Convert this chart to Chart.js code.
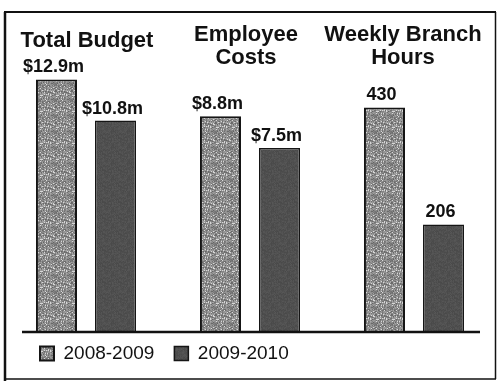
<!DOCTYPE html>
<html>
<head>
<meta charset="utf-8">
<script src="https://cdn.jsdelivr.net/npm/chart.js@4.4.0/dist/chart.umd.min.js"></script>
<style>
  html, body { margin: 0; padding: 0; background: #fff; }
  #wrap { width: 498px; height: 381px; position: relative; }
</style>
</head>
<body>
<div id="wrap"><canvas id="c" width="498" height="381"></canvas></div>
<script>
// ---- data ----
const categories = ['Total Budget', 'Employee Costs', 'Weekly Branch Hours'];
const titleLines = [['Total Budget'], ['Employee', 'Costs'], ['Weekly Branch', 'Hours']];
const seriesNames = ['2008-2009', '2009-2010'];
const values2008 = [12.9, 8.8, 430];
const values2009 = [10.8, 7.5, 206];
const valuePrefix = ['$', '$', ''];
const valueSuffix = ['m', 'm', ''];
const axisMax = [14.4, 11.5, 540];

// ---- textures (deterministic) ----
function makePattern(base, spread, lightChance, seed) {
  const c = document.createElement('canvas');
  c.width = 16; c.height = 16;
  const g = c.getContext('2d');
  let s = seed;
  function rnd() { s = (s * 1103515245 + 12345) & 0x7fffffff; return s / 0x7fffffff; }
  for (let y = 0; y < 16; y++) {
    for (let x = 0; x < 16; x++) {
      let v = base + (rnd() - 0.5) * spread;
      if (rnd() < lightChance) v = 215;
      v = Math.max(0, Math.min(255, Math.round(v)));
      g.fillStyle = `rgb(${v},${v},${v})`;
      g.fillRect(x, y, 1, 1);
    }
  }
  return c;
}
const ctx = document.getElementById('c').getContext('2d');
const pat2008 = ctx.createPattern(makePattern(135, 70, 0.10, 12345), 'repeat');
const pat2009 = ctx.createPattern(makePattern(80, 14, 0.0, 777), 'repeat');
const fills = [pat2008, pat2009];
const seriesValues = [values2008, values2009];

// one pair of datasets per group, each group on its own hidden value axis
const datasets = [];
categories.forEach((cat, gi) => {
  seriesNames.forEach((name, si) => {
    datasets.push({
      label: name,
      data: categories.map((_, j) => j === gi ? seriesValues[si][j] : null),
      yAxisID: 'y' + gi,
      backgroundColor: fills[si],
      borderColor: '#151515',
      borderWidth: si === 0 ? 2 : 1.5,
      borderSkipped: 'bottom',
      skipNull: true,
      categoryPercentage: 0.72,
      barPercentage: 0.695
    });
  });
});

const scales = {
  x: { display: false, grid: { display: false } }
};
categories.forEach((_, gi) => {
  scales['y' + gi] = { display: false, min: 0, max: axisMax[gi], grid: { display: false } };
});

const framePlugin = {
  id: 'frame',
  beforeDraw(chart) {
    const c = chart.ctx;
    c.save();
    c.fillStyle = '#fff';
    c.fillRect(0, 0, chart.width, chart.height);
    c.strokeStyle = '#111';
    c.lineWidth = 2.5; c.beginPath(); c.moveTo(5, 12); c.lineTo(5, 381); c.stroke();
    c.lineWidth = 2; c.beginPath(); c.moveTo(4, 12); c.lineTo(496, 12); c.stroke();
    c.lineWidth = 1.5; c.beginPath(); c.moveTo(495.5, 12); c.lineTo(495.5, 379); c.stroke();
    c.lineWidth = 1.5; c.beginPath(); c.moveTo(5, 379); c.lineTo(496, 379); c.stroke();
    c.restore();
  },
  afterLayout(chart) {
    chart.legend.left += 16;
    chart.legend.top = chart.chartArea.bottom - 8;
  },
  afterDatasetsDraw(chart) {
    const c = chart.ctx;
    const xs = chart.scales.x;
    const area = chart.chartArea;
    c.save();
    // baseline
    c.strokeStyle = '#111';
    c.lineWidth = 2.5;
    c.beginPath(); c.moveTo(22, area.bottom); c.lineTo(480, area.bottom); c.stroke();
    // group titles
    c.fillStyle = '#111';
    c.textAlign = 'center';
    c.textBaseline = 'alphabetic';
    c.font = 'bold 22px "Liberation Sans", Arial, sans-serif';
    const titleDx = [1, -4, -11];
    titleLines.forEach((lines, gi) => {
      const x = xs.getPixelForValue(gi) + titleDx[gi];
      const y0 = lines.length === 1 ? 47 : 41;
      lines.forEach((t, li) => c.fillText(t, x, y0 + li * 23));
    });
    // value labels
    c.font = 'bold 18px "Liberation Sans", Arial, sans-serif';
    chart.data.datasets.forEach((ds, di) => {
      const meta = chart.getDatasetMeta(di);
      meta.data.forEach((bar, j) => {
        const v = ds.data[j];
        if (v === null || v === undefined) return;
        const txt = valuePrefix[j] + v + valueSuffix[j];
        c.fillText(txt, bar.x - 3, bar.y - 7);
      });
    });
    c.restore();
  }
};

new Chart(ctx, {
  type: 'bar',
  data: { labels: categories, datasets },
  options: {
    responsive: false,
    animation: false,
    layout: { padding: { left: 4, right: 2, top: 50, bottom: 0 } },
    scales,
    plugins: {
      tooltip: { enabled: false },
      title: { display: false },
      legend: {
        display: true,
        position: 'bottom',
        align: 'start',
        labels: {
          boxWidth: 14,
          boxHeight: 14,
          padding: 20,
          color: '#111',
          font: { family: '"Liberation Sans", Arial, sans-serif', size: 19 },
          filter: (item) => item.datasetIndex < 2
        }
      }
    }
  },
  plugins: [framePlugin]
});
</script>
</body>
</html>
